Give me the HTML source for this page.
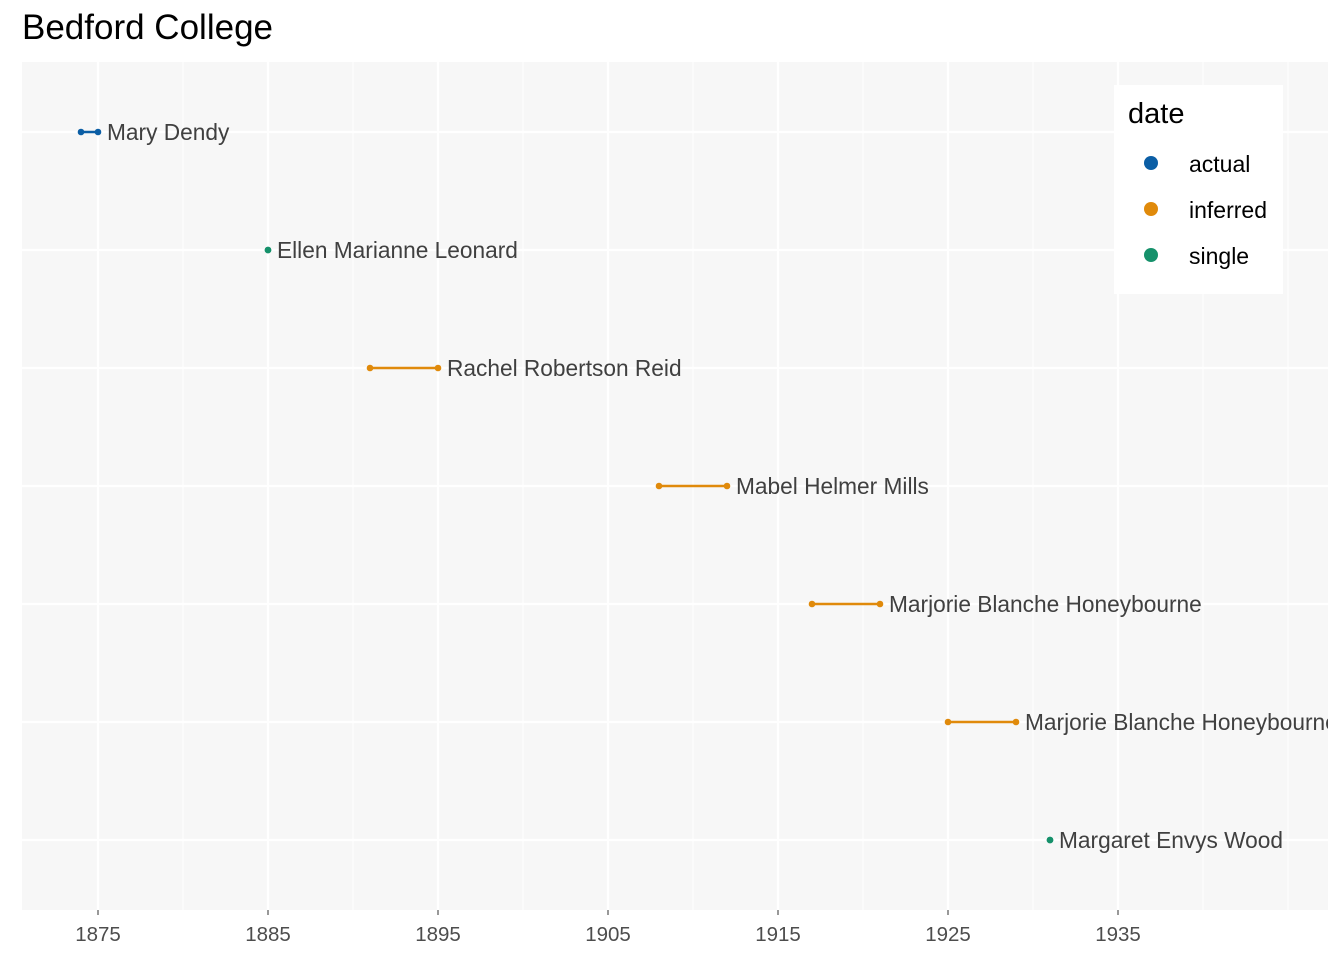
<!DOCTYPE html>
<html><head><meta charset="utf-8"><style>
body{margin:0;background:#fff;}
svg{display:block;font-family:"Liberation Sans",Arial,sans-serif;}
</style></head><body>
<svg id="chart" width="1344" height="960">
<defs><clipPath id="pc"><rect x="22" y="62" width="1306" height="848"/></clipPath></defs>
<text x="22" y="39" font-size="35" fill="#000">Bedford College</text>
<rect x="22" y="62" width="1306" height="848" fill="#f7f7f7"/>
<g id="grid"></g><g id="marks" clip-path="url(#pc)"></g><g id="xaxis"></g>
<g>
<rect x="1114" y="85" width="169" height="209" fill="#fff"/>
<text x="1128" y="123" font-size="29" fill="#000">date</text>
<g><circle cx="1151" cy="163" r="7" fill="#0b5ea5"/><text x="1189" y="172" font-size="23" fill="#000">actual</text></g>
<g><circle cx="1151" cy="209" r="7" fill="#e08a0b"/><text x="1189" y="218" font-size="23" fill="#000">inferred</text></g>
<g><circle cx="1151" cy="255" r="7" fill="#16916b"/><text x="1189" y="264" font-size="23" fill="#000">single</text></g>
</g>
</svg>
<script>
const names=["Mary Dendy","Ellen Marianne Leonard","Rachel Robertson Reid","Mabel Helmer Mills","Marjorie Blanche Honeybourne","Marjorie Blanche Honeybourne","Margaret Envys Wood"];
const starts=[1874,1885,1891,1908,1917,1925,1931];
const ends=[1875,1885,1895,1912,1921,1929,1931];
const types=["actual","single","inferred","inferred","inferred","inferred","single"];
const ticks=[1875,1885,1895,1905,1915,1925,1935];
const colors={actual:"#0b5ea5",inferred:"#e08a0b",single:"#16916b"};
const NS="http://www.w3.org/2000/svg";
const x=y=>98+(y-1875)*17;
const rowY=i=>132+i*118;
function mk(tag,attrs,parent){const e=document.createElementNS(NS,tag);for(const k in attrs)e.setAttribute(k,attrs[k]);parent.appendChild(e);return e;}
const grid=document.getElementById('grid'),marks=document.getElementById('marks'),xa=document.getElementById('xaxis');
for(let yr=1870;yr<=1950;yr+=5){const px=x(yr);if(px<22||px>1328)continue;
 const major=ticks.includes(yr);
 const l=mk('line',{x1:px,x2:px,y1:62,y2:910,stroke:'#fff','stroke-width':major?2.2:1.1},grid);
 
 }
names.forEach((n,i)=>{const l=mk('line',{x1:22,x2:1328,y1:rowY(i),y2:rowY(i),stroke:'#fff','stroke-width':2.2},grid);
 
 });
ticks.forEach(t=>{const tk=mk('line',{x1:x(t),x2:x(t),y1:910,y2:915,stroke:'#333','stroke-width':1},xa);
 
 
 const tx=mk('text',{x:x(t),y:941,'font-size':20.5,fill:'#4d4d4d','text-anchor':'middle'},xa);tx.textContent=t;
 
 });
names.forEach((n,i)=>{const c=colors[types[i]],yy=rowY(i);
 const g=mk('g',{},marks);
 
 
 mk('line',{x1:x(starts[i]),x2:x(ends[i]),y1:yy,y2:yy,stroke:c,'stroke-width':2.5},g);
 mk('circle',{cx:x(starts[i]),cy:yy,r:3.3,fill:c},g);
 mk('circle',{cx:x(ends[i]),cy:yy,r:3.3,fill:c},g);
 const t=mk('text',{x:x(ends[i])+9,y:yy+8,'font-size':22.7,fill:'#404040'},g);t.textContent=n;
 
 });
</script>
</body></html>
